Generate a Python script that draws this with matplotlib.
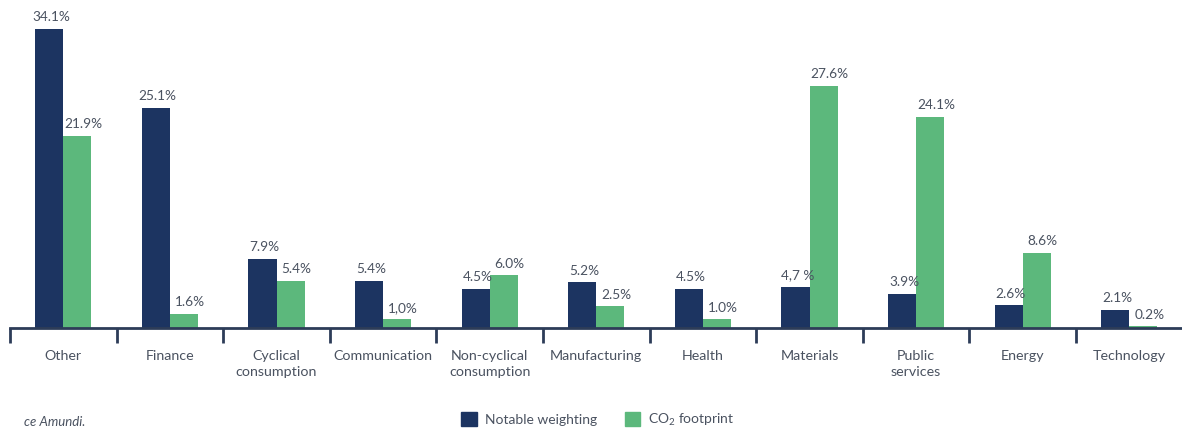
import matplotlib
matplotlib.use("Agg")
import matplotlib.pyplot as plt
from matplotlib.patches import Patch

categories = ["Other", "Finance", "Cyclical\nconsumption", "Communication",
              "Non-cyclical\nconsumption", "Manufacturing", "Health", "Materials",
              "Public\nservices", "Energy", "Technology"]
weighting = [34.1, 25.1, 7.9, 5.4, 4.5, 5.2, 4.5, 4.7, 3.9, 2.6, 2.1]
footprint = [21.9, 1.6, 5.4, 1.0, 6.0, 2.5, 1.0, 27.6, 24.1, 8.6, 0.2]
weighting_labels = ["34.1%", "25.1%", "7.9%", "5.4%", "4.5%", "5.2%", "4.5%",
                    "4,7 %", "3.9%", "2.6%", "2.1%"]
footprint_labels = ["21.9%", "1.6%", "5.4%", "1,0%", "6.0%", "2.5%", "1.0%",
                    "27.6%", "24.1%", "8.6%", "0.2%"]

NAVY = "#1c3461"
GREEN = "#5cb87c"
TXT = "#4a5260"

plt.rcParams['font.family'] = ['Lato', 'DejaVu Sans']
plt.rcParams['mathtext.fontset'] = 'custom'
plt.rcParams['mathtext.rm'] = 'Lato'

W, H = 1182, 434
fig = plt.figure(figsize=(W / 100, H / 100), dpi=100)
ax = fig.add_axes([10 / W, 106 / H, 1.0, 328 / H])
ax.set_xlim(0, 1182 / 106.6)
ax.set_ylim(0, 328 / 8.77)

bw = 0.263
n = len(categories)
centers = [i + 0.5 for i in range(n)]
ax.bar([c - bw / 2 for c in centers], weighting, width=bw, color=NAVY, zorder=2)
ax.bar([c + bw / 2 for c in centers], footprint, width=bw, color=GREEN, zorder=2)

for c, v, l in zip(centers, weighting, weighting_labels):
    ax.annotate(l, (c - bw / 2, v), xytext=(1.4, 4), textcoords="offset points",
                ha="center", va="bottom", fontsize=9.8, color=TXT)
for c, v, l in zip(centers, footprint, footprint_labels):
    ax.annotate(l, (c + bw / 2, v), xytext=(4.3, 4), textcoords="offset points",
                ha="center", va="bottom", fontsize=9.8, color=TXT)

for s in ["top", "right", "left"]:
    ax.spines[s].set_visible(False)
ax.spines["bottom"].set_color("#2d3c58")
ax.spines["bottom"].set_linewidth(2)
ax.set_yticks([])
ax.set_xticks(list(range(n + 1)))
ax.set_xticklabels([])
ax.tick_params(axis="x", direction="out", length=11, width=2, color="#2d3c58")

for c, lab in zip(centers, categories):
    ax.annotate(lab, (c, 0), xytext=(0, -15.5), textcoords="offset points",
                ha="center", va="top", fontsize=10.3, color=TXT, linespacing=1.45)

fig.text(85 / W, 1 - 422 / H, "ce Amundi.", ha="right", va="center",
         fontsize=9.5, color=TXT, style="italic")

handles = [Patch(color=NAVY, label="Notable weighting"),
           Patch(color=GREEN, label="CO$_2$ footprint")]
fig.legend(handles=handles, loc="center", bbox_to_anchor=(598 / W, 1 - 420 / H),
           ncol=2, frameon=False, fontsize=10, handlelength=1.1, handleheight=1.1,
           columnspacing=2.0, handletextpad=0.6, labelcolor=TXT)

fig.savefig("out.png", dpi=100)
